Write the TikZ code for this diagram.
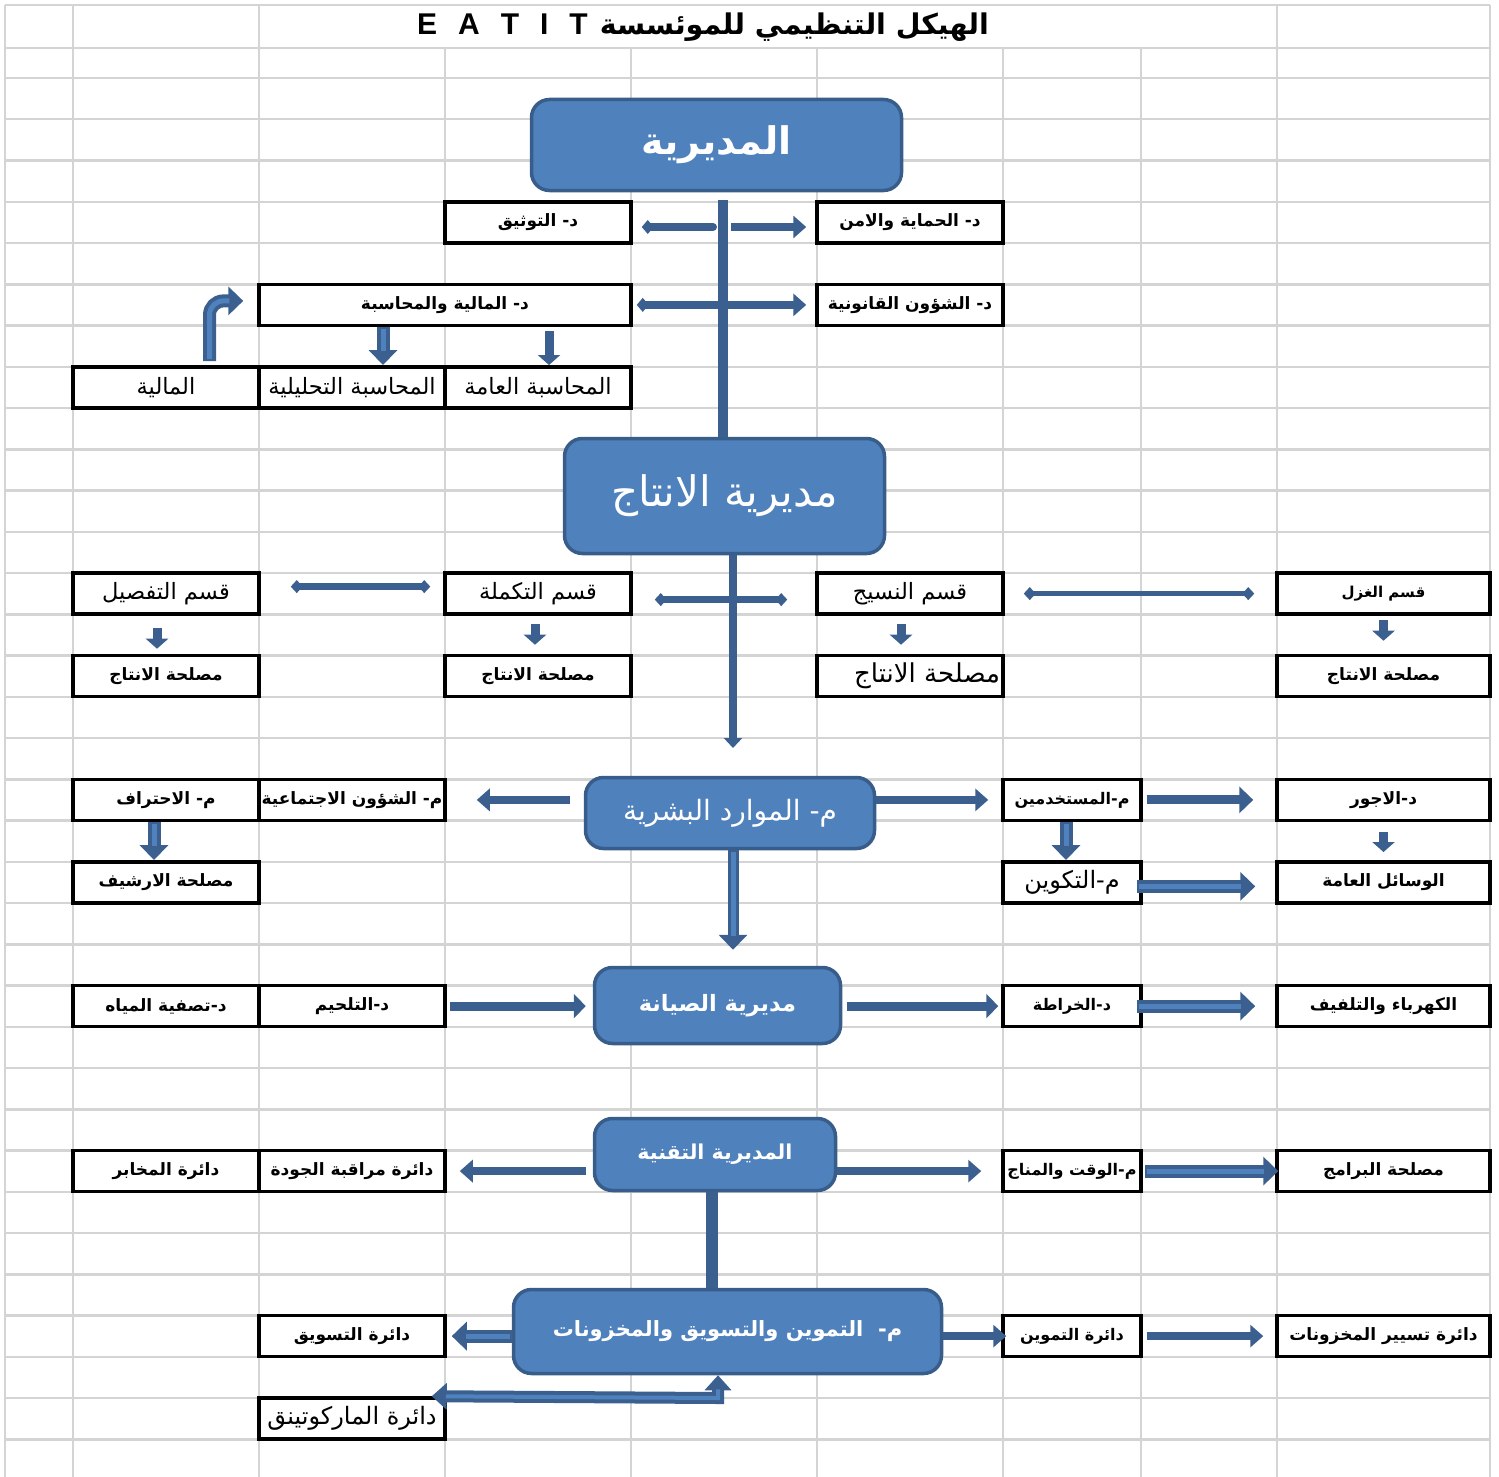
\documentclass[tikz,border=0pt]{standalone}
\usepackage{fontspec}
\usetikzlibrary{arrows.meta}
\TeXXeTstate=1
\newfontfamily\arfont[Script=Arabic]{DejaVu Sans}
\newfontfamily\latfont{Liberation Sans}
\newcommand\artxt[1]{{\arfont\beginR #1\endR}}
\definecolor{gridgray}{HTML}{D4D4D4}
\definecolor{unitblue}{HTML}{4F81BD}
\definecolor{unitedge}{HTML}{385D8A}
\definecolor{arrowblue}{HTML}{3B5F8F}

\tikzset{
  gridline/.style={draw=gridgray, line width=2.5pt},
  cell/.style={draw=black, line width=3.5pt, fill=white, minimum width=186pt, minimum height=41.25pt, inner sep=1pt, font=\bfseries\fontsize{17}{19}\selectfont},
  plaincell/.style={cell, font=\fontsize{22.5}{24}\selectfont},
  unit/.style={draw=unitedge, line width=3.5pt, fill=unitblue, rounded corners=18pt, text=white, inner sep=2pt},
  link/.style={draw=arrowblue, line width=8pt, -{Triangle[length=13pt,width=22pt]}},
  flow/.style={draw=arrowblue, line width=7pt, {Diamond[length=12pt,width=13pt]}-{Diamond[length=12pt,width=13pt]}},
  stub/.style={draw=arrowblue, line width=9pt, -{Triangle[length=10pt,width=22pt]}},
  fat/.style={draw=arrowblue, line width=13pt, -{Triangle[length=15pt,width=28pt]},
    postaction={draw=unitblue, line width=5pt, -, shorten >=14pt, shorten <=2pt}},
  fatboth/.style={draw=arrowblue, line width=12pt, {Triangle[length=15pt,width=26pt]}-{Triangle[length=15pt,width=26pt]},
    postaction={draw=unitblue, line width=4pt, -, shorten >=14pt, shorten <=14pt}},
  trunk/.style={draw=arrowblue, line width=10pt},
}

\begin{document}
\begin{tikzpicture}[x=1pt, y=-1pt]
\useasboundingbox (0,0) rectangle (1499,1477);

% sheet grid
\foreach \gx in {5,73,259,1277,1490}
  \draw[gridline] (\gx,5) -- (\gx,1477);
\foreach \gx in {445,631,817,1003,1141}
  \draw[gridline] (\gx,48) -- (\gx,1477);
\draw[gridline] (5,5) -- (1490,5);
\draw[gridline] (5,48) -- (1490,48);
\foreach \k in {0,...,33}
  \draw[gridline] (5,78+41.25*\k) -- (1490,78+41.25*\k);

% title
\node (title) at (703,27) {{\latfont\bfseries\fontsize{30}{32}\selectfont E\hspace{21pt}A\hspace{21pt}T\hspace{21pt}I\hspace{21pt}T}\hspace{12pt}{\bfseries\fontsize{28.5}{30}\selectfont\artxt{الهيكل التنظيمي للموئسسة}}};

% direction
\node[unit, minimum width=370pt, minimum height=91pt, font=\bfseries\fontsize{38}{40}\selectfont] (dir) at (716.5,145) {\artxt{المديرية}};
\node[cell] (tawthiq) at (538,222.4) {\artxt{د- التوثيق}};
\node[cell] (himaya) at (910,222.4) {\artxt{د- الحماية والامن}};
\node[cell, minimum width=372pt] (finance) at (445,304.9) {\artxt{د- المالية والمحاسبة}};
\node[cell] (legal) at (910,304.9) {\artxt{د- الشؤون القانونية}};
\node[plaincell] (maliya) at (166,387.4) {\artxt{المالية}};
\node[plaincell] (analytic) at (352,387.4) {\artxt{المحاسبة التحليلية}};
\node[plaincell] (general) at (538,387.4) {\artxt{المحاسبة العامة}};

% production
\node[unit, minimum width=320pt, minimum height=115pt, font=\fontsize{42}{44}\selectfont] (prod) at (724.5,496) {\artxt{مديرية الانتاج}};
\node[plaincell] (tafsil) at (166,593.6) {\artxt{قسم التفصيل}};
\node[plaincell] (takmila) at (538,593.6) {\artxt{قسم التكملة}};
\node[plaincell] (naseej) at (910,593.6) {\artxt{قسم النسيج}};
\node[cell, minimum width=213pt, font=\bfseries\fontsize{15}{17}\selectfont] (ghazl) at (1383.5,593.6) {\artxt{قسم الغزل}};
\node[cell] (unitA) at (166,676.1) {\artxt{مصلحة الانتاج}};
\node[cell] (unitC) at (538,676.1) {\artxt{مصلحة الانتاج}};
\node[plaincell, font=\fontsize{26}{28}\selectfont] (unitE) at (910,676.1) {\makebox[180pt][r]{\artxt{مصلحة الانتاج}}};
\node[cell, minimum width=213pt] (unitH) at (1383.5,676.1) {\artxt{مصلحة الانتاج}};

% human resources
\node[unit, minimum width=289pt, minimum height=71pt, font=\fontsize{28}{30}\selectfont] (hr) at (730,813) {\artxt{م- الموارد البشرية}};
\node[cell] (ihtiraf) at (166,799.9) {\artxt{م- الاحتراف}};
\node[cell] (social) at (352,799.9) {\artxt{م- الشؤون الاجتماعية}};
\node[cell, minimum width=138pt, font=\bfseries\fontsize{16}{18}\selectfont] (staff) at (1072,799.9) {\artxt{م-المستخدمين}};
\node[cell, minimum width=213pt] (wages) at (1383.5,799.9) {\artxt{د-الاجور}};
\node[cell] (archive) at (166,882.4) {\artxt{مصلحة الارشيف}};
\node[cell, minimum width=138pt, font=\fontsize{24}{26}\selectfont] (training) at (1072,882.4) {\artxt{م-التكوين}};
\node[cell, minimum width=213pt] (means) at (1383.5,882.4) {\artxt{الوسائل العامة}};

% maintenance
\node[unit, minimum width=246pt, minimum height=76pt, font=\bfseries\fontsize{22.5}{24}\selectfont] (maint) at (717.5,1005.5) {\artxt{مديرية الصيانة}};
\node[cell] (water) at (166,1006.1) {\artxt{د-تصفية المياه}};
\node[cell] (welding) at (352,1006.1) {\artxt{د-التلحيم}};
\node[cell, minimum width=138pt, font=\bfseries\fontsize{16}{18}\selectfont] (turning) at (1072,1006.1) {\artxt{د-الخراطة}};
\node[cell, minimum width=213pt] (electric) at (1383.5,1006.1) {\artxt{الكهرباء والتلفيف}};

% technical
\node[unit, minimum width=241pt, minimum height=72pt, font=\bfseries\fontsize{20.5}{22}\selectfont] (tech) at (715,1154.5) {\artxt{المديرية التقنية}};
\node[cell] (labs) at (166,1171.1) {\artxt{دائرة المخابر}};
\node[cell] (quality) at (352,1171.1) {\artxt{دائرة مراقبة الجودة}};
\node[cell, minimum width=138pt, font=\bfseries\fontsize{16}{18}\selectfont] (timing) at (1072,1171.1) {\artxt{م-الوقت والمناج}};
\node[cell, minimum width=213pt] (software) at (1383.5,1171.1) {\artxt{مصلحة البرامج}};

% supply
\node[unit, minimum width=428pt, minimum height=84pt, font=\bfseries\fontsize{21}{23}\selectfont] (supply) at (727.5,1331.5) {\artxt{م-\ \ التموين والتسويق والمخزونات}};
\node[cell] (taswiq) at (352,1336.1) {\artxt{دائرة التسويق}};
\node[cell, minimum width=138pt, font=\bfseries\fontsize{16}{18}\selectfont] (provision) at (1072,1336.1) {\artxt{دائرة التموين}};
\node[cell, minimum width=213pt] (stocks) at (1383.5,1336.1) {\artxt{دائرة تسيير المخزونات}};
\node[cell, font=\fontsize{24}{26}\selectfont] (marketing) at (352,1418.6) {\artxt{دائرة الماركوتينق}};

% connectors, top part
\coordinate (j1) at (723,200);
\coordinate (j2) at (723,227);
\draw[draw=arrowblue, line width=8pt, line cap=round, -{Diamond[length=12pt,width=14pt]}, shorten >=9pt] ([xshift=-10pt]j2) -- (tawthiq.east |- j2);
\draw[link, shorten >=9pt] ([xshift=8pt]j2) -- (himaya.west |- j2);
\draw[draw=arrowblue, line width=8pt, {Diamond[length=12pt,width=14pt]}-{Triangle[length=13pt,width=22pt]}, shorten <=4pt, shorten >=9pt] (finance.east) -- (legal.west);
\draw[trunk] (j1) -- (prod.north -| j1);
\draw[fat] ([xshift=-62pt]finance.south) -- ([xshift=31pt]analytic.north);
\draw[stub] ([xshift=104pt,yshift=-4pt]finance.south) -- ([xshift=11pt]general.north);
\draw[fat, rounded corners=14pt] ([xshift=43.5pt,yshift=4pt]maliya.north) |- ([xshift=-14pt,yshift=4pt]finance.west);

% production part
\coordinate (j4) at (733,748);
\draw[flow, shorten <=22pt, shorten >=28pt] ([yshift=-6pt]takmila.east) -- ([yshift=-6pt]naseej.west);
\draw[draw=arrowblue, line width=8pt, -{Triangle[length=10pt,width=18pt]}] ([xshift=8.5pt]prod.south) -- (j4);
\draw[flow, shorten <=30pt, shorten >=13pt] ([yshift=7pt]tafsil.east) -- ([yshift=7pt]takmila.west);
\draw[flow, line width=5pt, shorten <=19pt, shorten >=21pt] (naseej.east) -- (ghazl.west);
\draw[stub, shorten <=12pt, shorten >=5pt] ([xshift=-9pt]tafsil.south) -- ([xshift=-9pt]unitA.north);
\draw[stub, shorten <=8pt, shorten >=9pt] ([xshift=-3pt]takmila.south) -- ([xshift=-3pt]unitC.north);
\draw[stub, shorten <=8pt, shorten >=9pt] ([xshift=-9pt]naseej.south) -- ([xshift=-9pt]unitE.north);
\draw[stub, shorten <=4pt, shorten >=13pt] (ghazl.south) -- (unitH.north);

% human resources part
\draw[link, shorten <=14pt, shorten >=30pt] (hr.west |- social.east) -- (social.east);
\draw[link, shorten >=13pt] (hr.east |- staff.west) -- (staff.west);
\draw[fat, line width=11pt] ([xshift=3pt]hr.south) -- ([xshift=15.5pt,yshift=16pt]maint.north);
\draw[link, line width=9pt, -{Triangle[length=14pt,width=26pt]}, shorten <=4pt, shorten >=22pt] (staff.east) -- (wages.west);
\draw[fat] ([xshift=-6pt]staff.south) -- ([xshift=-6pt]training.north);
\draw[stub, shorten <=10pt, shorten >=8pt] (wages.south) -- (means.north);
\draw[fat] ([xshift=-6pt,yshift=-4pt]training.east) -- ([xshift=-20pt,yshift=-4pt]means.west);
\draw[fat] ([xshift=-12pt]ihtiraf.south) -- ([xshift=-12pt]archive.north);

% maintenance part
\draw[link, line width=9pt, -{Triangle[length=12pt,width=24pt]}, shorten <=3pt, shorten >=7pt] (welding.east) -- (maint.west |- welding.east);
\draw[link, line width=9pt, -{Triangle[length=12pt,width=24pt]}, shorten <=5pt, shorten >=3pt] (maint.east |- turning.west) -- (turning.west);
\draw[fat] ([xshift=-6pt]turning.east) -- ([xshift=-20pt]electric.west);

% technical part
\draw[link, shorten <=7pt, shorten >=13pt] (tech.west |- quality.east) -- (quality.east);
\draw[link, shorten >=20pt] (tech.east |- timing.west) -- (timing.west);
\draw[fat] ([xshift=2pt]timing.east) -- ([xshift=3pt]software.west);
\draw[trunk, line width=12pt] ([xshift=-3pt]tech.south) -- ([xshift=-15.5pt]supply.north);

% supply part
\coordinate (bend) at (718,1398);
\draw[fat] (supply.west |- taswiq.east) -- ([xshift=5pt]taswiq.east);
\draw[link, shorten >=-5pt] (supply.east |- provision.west) -- (provision.west);
\draw[link, shorten <=4pt, shorten >=12pt] (provision.east) -- (stocks.west);
\draw[fatboth] (supply.south -| bend) -- (bend) -- ([xshift=-15pt]marketing.north east);
\end{tikzpicture}
\end{document}
